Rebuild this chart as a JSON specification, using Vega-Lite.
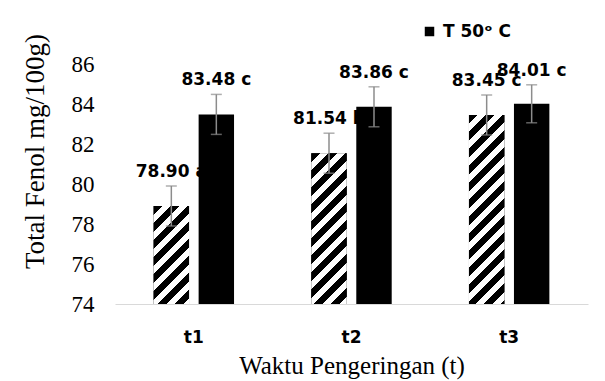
{
  "$schema": "https://vega.github.io/schema/vega-lite/v6.json",
  "width": 473,
  "height": 240,
  "autosize": "none",
  "padding": {"left": 115, "top": 64, "right": 17, "bottom": 77},
  "background": "white",
  "config": {"view": {"stroke": null}, "axis": {"labelOverlap": false}, "axisY": {"labelOverlap": false, "tickCount": 7}},
  "data": {
    "values": [
      {"t": "t1", "s": "T 50ᵒ C", "v": 78.90, "lo": 77.90, "hi": 79.90, "label": "78.90 a"},
      {"t": "t1", "s": "T 60ᵒ C", "v": 83.48, "lo": 82.48, "hi": 84.48, "label": "83.48 c"},
      {"t": "t2", "s": "T 50ᵒ C", "v": 81.54, "lo": 80.54, "hi": 82.54, "label": "81.54 b"},
      {"t": "t2", "s": "T 60ᵒ C", "v": 83.86, "lo": 82.86, "hi": 84.86, "label": "83.86 c"},
      {"t": "t3", "s": "T 50ᵒ C", "v": 83.45, "lo": 82.45, "hi": 84.45, "label": "83.45 c"},
      {"t": "t3", "s": "T 60ᵒ C", "v": 84.01, "lo": 83.06, "hi": 84.96, "label": "84.01 c"}
    ]
  },
  "encoding": {
    "x": {
      "field": "t", "type": "nominal",
      "scale": {"paddingInner": 0.49, "paddingOuter": 0.245},
      "axis": {
        "title": "Waktu Pengeringan (t)",
        "domainColor": "#d9d9d9", "domainWidth": 1,
        "ticks": false, "labelAngle": 0,
        "labelFont": "DejaVu Sans", "labelFontWeight": "bold", "labelFontSize": 17, "labelColor": "black",
        "labelPadding": 25,
        "titleFont": "Liberation Serif", "titleFontSize": 25, "titleFontWeight": "normal", "titleColor": "black",
        "titleY": 69, "titleBaseline": "alphabetic"
      }
    },
    "xOffset": {"field": "s", "type": "nominal", "scale": {"paddingInner": 0.213, "paddingOuter": 0}}
  },
  "layer": [
    {
      "mark": {"type": "bar"},
      "encoding": {
        "y": {
          "field": "v", "type": "quantitative",
          "scale": {"domain": [74, 86], "zero": false, "nice": false},
          "axis": {
            "title": "Total Fenol mg/100g)",
            "domain": false, "ticks": false, "grid": false, "labelOverlap": false,
            "values": [74, 76, 78, 80, 82, 84, 86],
            "labelFont": "Liberation Serif", "labelFontSize": 23, "labelColor": "black", "labelPadding": 21,
            "titleFont": "Liberation Serif", "titleFontSize": 27, "titleFontWeight": "normal", "titleColor": "black",
            "titleAngle": -90, "titleX": -72, "titleY": 87, "titleAlign": "center", "titleBaseline": "alphabetic"
          }
        },
        "y2": {"datum": 74},
        "fill": {
          "field": "s", "type": "nominal",
          "scale": {"domain": ["T 50ᵒ C", "T 60ᵒ C"], "range": ["black", "black"]},
          "legend": {
            "values": ["T 50ᵒ C"], "title": null, "orient": "none", "legendX": 306, "legendY": -41,
            "symbolType": "square", "symbolSize": 90, "padding": 0, "labelOffset": 5,
            "labelFont": "DejaVu Sans", "labelFontWeight": "bold", "labelFontSize": 17, "labelColor": "black"
          }
        }
      }
    },
    {
      "transform": [{"filter": "datum.t == 't1' && datum.s == 'T 50ᵒ C'"}],
      "mark": {"type": "bar", "fill": {"gradient": "linear", "x1": 0, "y1": 0, "x2": 0.435, "y2": 1.204, "stops": [
        {"offset": 0, "color": "black"}, {"offset": 0.0637, "color": "black"}, {"offset": 0.0637, "color": "white"}, {"offset": 0.1274, "color": "white"},
        {"offset": 0.1274, "color": "black"}, {"offset": 0.1912, "color": "black"}, {"offset": 0.1912, "color": "white"}, {"offset": 0.2549, "color": "white"},
        {"offset": 0.2549, "color": "black"}, {"offset": 0.3186, "color": "black"}, {"offset": 0.3186, "color": "white"}, {"offset": 0.3823, "color": "white"},
        {"offset": 0.3823, "color": "black"}, {"offset": 0.446, "color": "black"}, {"offset": 0.446, "color": "white"}, {"offset": 0.5098, "color": "white"},
        {"offset": 0.5098, "color": "black"}, {"offset": 0.5735, "color": "black"}, {"offset": 0.5735, "color": "white"}, {"offset": 0.6372, "color": "white"},
        {"offset": 0.6372, "color": "black"}, {"offset": 0.7009, "color": "black"}, {"offset": 0.7009, "color": "white"}, {"offset": 0.7646, "color": "white"},
        {"offset": 0.7646, "color": "black"}, {"offset": 0.8284, "color": "black"}, {"offset": 0.8284, "color": "white"}, {"offset": 0.8921, "color": "white"},
        {"offset": 0.8921, "color": "black"}, {"offset": 0.9558, "color": "black"}, {"offset": 0.9558, "color": "white"}, {"offset": 1, "color": "white"}
      ]}},
      "encoding": {"y": {"field": "v", "type": "quantitative"}, "y2": {"datum": 74}}
    },
    {
      "transform": [{"filter": "datum.t == 't2' && datum.s == 'T 50ᵒ C'"}],
      "mark": {"type": "bar", "fill": {"gradient": "linear", "x1": 0, "y1": 0, "x2": 0.2747, "y2": 1.1703, "stops": [
        {"offset": 0, "color": "black"}, {"offset": 0.0457, "color": "black"}, {"offset": 0.0457, "color": "white"}, {"offset": 0.0913, "color": "white"},
        {"offset": 0.0913, "color": "black"}, {"offset": 0.137, "color": "black"}, {"offset": 0.137, "color": "white"}, {"offset": 0.1826, "color": "white"},
        {"offset": 0.1826, "color": "black"}, {"offset": 0.2283, "color": "black"}, {"offset": 0.2283, "color": "white"}, {"offset": 0.2739, "color": "white"},
        {"offset": 0.2739, "color": "black"}, {"offset": 0.3196, "color": "black"}, {"offset": 0.3196, "color": "white"}, {"offset": 0.3652, "color": "white"},
        {"offset": 0.3652, "color": "black"}, {"offset": 0.4109, "color": "black"}, {"offset": 0.4109, "color": "white"}, {"offset": 0.4565, "color": "white"},
        {"offset": 0.4565, "color": "black"}, {"offset": 0.5022, "color": "black"}, {"offset": 0.5022, "color": "white"}, {"offset": 0.5478, "color": "white"},
        {"offset": 0.5478, "color": "black"}, {"offset": 0.5935, "color": "black"}, {"offset": 0.5935, "color": "white"}, {"offset": 0.6391, "color": "white"},
        {"offset": 0.6391, "color": "black"}, {"offset": 0.6848, "color": "black"}, {"offset": 0.6848, "color": "white"}, {"offset": 0.7304, "color": "white"},
        {"offset": 0.7304, "color": "black"}, {"offset": 0.7761, "color": "black"}, {"offset": 0.7761, "color": "white"}, {"offset": 0.8217, "color": "white"},
        {"offset": 0.8217, "color": "black"}, {"offset": 0.8674, "color": "black"}, {"offset": 0.8674, "color": "white"}, {"offset": 0.913, "color": "white"},
        {"offset": 0.913, "color": "black"}, {"offset": 0.9587, "color": "black"}, {"offset": 0.9587, "color": "white"}, {"offset": 1, "color": "white"}
      ]}},
      "encoding": {"y": {"field": "v", "type": "quantitative"}, "y2": {"datum": 74}}
    },
    {
      "transform": [{"filter": "datum.t == 't3' && datum.s == 'T 50ᵒ C'"}],
      "mark": {"type": "bar", "fill": {"gradient": "linear", "x1": 0, "y1": 0, "x2": 0.2149, "y2": 1.147, "stops": [
        {"offset": 0, "color": "black"}, {"offset": 0.0379, "color": "black"}, {"offset": 0.0379, "color": "white"}, {"offset": 0.0758, "color": "white"},
        {"offset": 0.0758, "color": "black"}, {"offset": 0.1136, "color": "black"}, {"offset": 0.1136, "color": "white"}, {"offset": 0.1515, "color": "white"},
        {"offset": 0.1515, "color": "black"}, {"offset": 0.1894, "color": "black"}, {"offset": 0.1894, "color": "white"}, {"offset": 0.2273, "color": "white"},
        {"offset": 0.2273, "color": "black"}, {"offset": 0.2652, "color": "black"}, {"offset": 0.2652, "color": "white"}, {"offset": 0.303, "color": "white"},
        {"offset": 0.303, "color": "black"}, {"offset": 0.3409, "color": "black"}, {"offset": 0.3409, "color": "white"}, {"offset": 0.3788, "color": "white"},
        {"offset": 0.3788, "color": "black"}, {"offset": 0.4167, "color": "black"}, {"offset": 0.4167, "color": "white"}, {"offset": 0.4545, "color": "white"},
        {"offset": 0.4545, "color": "black"}, {"offset": 0.4924, "color": "black"}, {"offset": 0.4924, "color": "white"}, {"offset": 0.5303, "color": "white"},
        {"offset": 0.5303, "color": "black"}, {"offset": 0.5682, "color": "black"}, {"offset": 0.5682, "color": "white"}, {"offset": 0.6061, "color": "white"},
        {"offset": 0.6061, "color": "black"}, {"offset": 0.6439, "color": "black"}, {"offset": 0.6439, "color": "white"}, {"offset": 0.6818, "color": "white"},
        {"offset": 0.6818, "color": "black"}, {"offset": 0.7197, "color": "black"}, {"offset": 0.7197, "color": "white"}, {"offset": 0.7576, "color": "white"},
        {"offset": 0.7576, "color": "black"}, {"offset": 0.7955, "color": "black"}, {"offset": 0.7955, "color": "white"}, {"offset": 0.8333, "color": "white"},
        {"offset": 0.8333, "color": "black"}, {"offset": 0.8712, "color": "black"}, {"offset": 0.8712, "color": "white"}, {"offset": 0.9091, "color": "white"},
        {"offset": 0.9091, "color": "black"}, {"offset": 0.947, "color": "black"}, {"offset": 0.947, "color": "white"}, {"offset": 0.9848, "color": "white"},
        {"offset": 0.9848, "color": "black"}, {"offset": 1, "color": "black"}
      ]}},
      "encoding": {"y": {"field": "v", "type": "quantitative"}, "y2": {"datum": 74}}
    },
    {
      "mark": {"type": "rule", "color": "#8c8c8c", "strokeWidth": 1.5},
      "encoding": {"y": {"field": "lo", "type": "quantitative"}, "y2": {"field": "hi"}}
    },
    {
      "mark": {"type": "tick", "color": "#8c8c8c", "thickness": 1.5, "size": 11},
      "encoding": {"y": {"field": "lo", "type": "quantitative"}}
    },
    {
      "mark": {"type": "tick", "color": "#8c8c8c", "thickness": 1.5, "size": 11},
      "encoding": {"y": {"field": "hi", "type": "quantitative"}}
    },
    {
      "mark": {"type": "text", "font": "DejaVu Sans", "fontWeight": "bold", "fontSize": 17, "dy": -9, "baseline": "alphabetic", "color": "black"},
      "encoding": {"y": {"field": "hi", "type": "quantitative"}, "text": {"field": "label"}}
    }
  ]
}
